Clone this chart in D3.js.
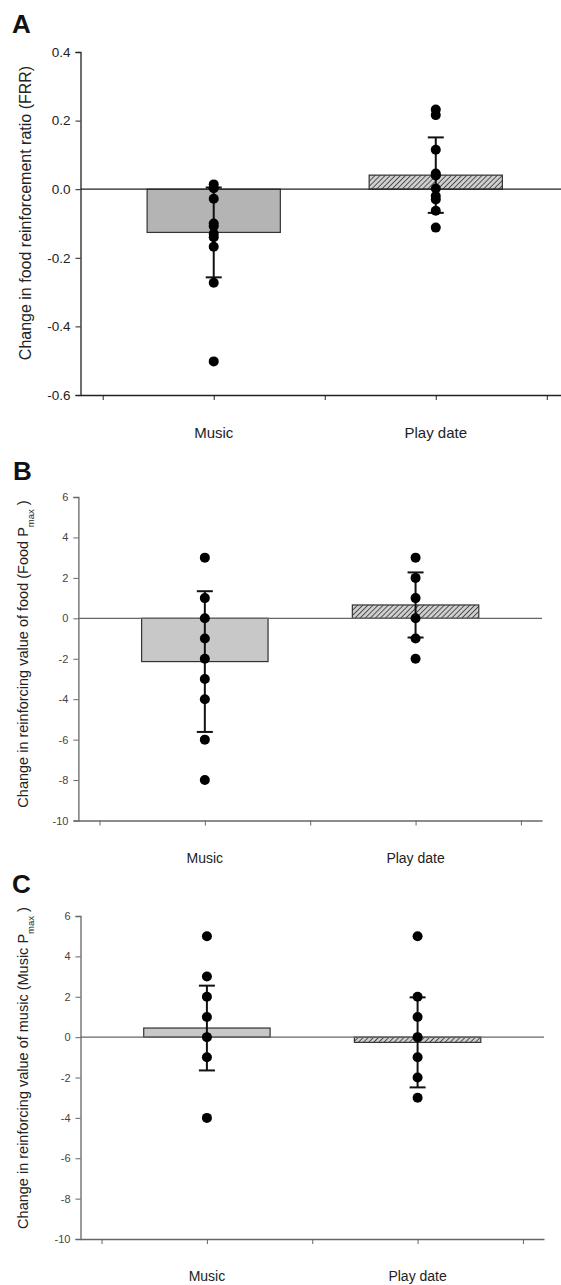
<!DOCTYPE html>
<html>
<head>
<meta charset="utf-8">
<script src="https://cdn.jsdelivr.net/npm/d3@7"></script>
<style>
  body { margin: 0; background: #fff; }
  svg { display: block; font-family: "Liberation Sans", Arial, sans-serif; }
</style>
</head>
<body>
<div id="chart"></div>
<script>
// data
const categories = ["Music", "Play date"];

// panel A - food reinforcement ratio
const frrTicks = [0.4, 0.2, 0.0, -0.2, -0.4, -0.6];
const frrMeans = [-0.126, 0.041];
const frrSD = [0.131, 0.110];
const frrMusic = [0.014, 0.003, -0.028, -0.100, -0.108, -0.130, -0.140, -0.168, -0.273, -0.502];
const frrPlay = [0.232, 0.216, 0.115, 0.046, 0.040, 0.002, -0.020, -0.030, -0.063, -0.112];

// panel B - food Pmax
const pmaxTicks = [6, 4, 2, 0, -2, -4, -6, -8, -10];
const foodMeans = [-2.14, 0.66];
const foodSD = [3.48, 1.61];
const foodMusic = [3, 1, 0, -1, -2, -3, -4, -6, -8];
const foodPlay = [3, 2, 1, 0, -1, -2];

// panel C - music Pmax
const musicMeans = [0.45, -0.26];
const musicSD = [2.10, 2.23];
const musicMusic = [5, 3, 2, 1, 0, -1, -4];
const musicPlay = [5, 2, 1, 0, -1, -2, -3];

const W = 561, H = 1285;

let svg = d3.select("#chart")
    .append("svg")
    .attr("width", W)
    .attr("height", H);

// hatch pattern for play date bars
let defs = svg.append("defs");
let pat = defs.append("pattern")
    .attr("id", "hatch")
    .attr("patternUnits", "userSpaceOnUse")
    .attr("width", 3.6)
    .attr("height", 3.6)
    .attr("patternTransform", "rotate(45)");
pat.append("rect").attr("width", 3.6).attr("height", 3.6).attr("fill", "#cfcfcf");
pat.append("line")
    .attr("x1", 0).attr("y1", 0).attr("x2", 0).attr("y2", 3.6)
    .attr("stroke", "#333")
    .attr("stroke-width", 1.6);

// plain hyphen like the original figure
const hyphen = f => d => f(d).replace("\u2212", "-");

function drawPanel(cfg) {
    let x = d3.scaleLinear().domain([0.4, 2.6]).range([cfg.x0, cfg.x1]);
    let y = d3.scaleLinear().domain([cfg.ymax, cfg.ymin]).range([cfg.y0, cfg.y1]);
    let g = svg.append("g");

    // panel letter
    g.append("text")
        .attr("x", cfg.letterX)
        .attr("y", cfg.letterY)
        .text(cfg.letter)
        .style("font-size", "26px")
        .style("font-weight", "bold")
        .style("fill", "#111");

    // bars (0.6 category units wide)
    let barW = x(1.6) - x(1);
    categories.forEach((c, i) => {
        let m = cfg.means[i];
        g.append("rect")
            .attr("x", x(i + 1) - barW / 2)
            .attr("y", y(Math.max(0, m)))
            .attr("width", barW)
            .attr("height", Math.abs(y(m) - y(0)))
            .attr("fill", i === 0 ? cfg.barFill : "url(#hatch)")
            .attr("stroke", "#333")
            .attr("stroke-width", 1.2);
    });

    // zero line
    g.append("line")
        .attr("x1", cfg.x0).attr("x2", cfg.x1)
        .attr("y1", y(0)).attr("y2", y(0))
        .attr("stroke", cfg.axisColor)
        .attr("stroke-width", 1.3);

    // error bars
    categories.forEach((c, i) => {
        let cx = x(i + 1);
        let top = y(cfg.means[i] + cfg.sd[i]);
        let bot = y(cfg.means[i] - cfg.sd[i]);
        g.append("line")
            .attr("x1", cx).attr("x2", cx)
            .attr("y1", top).attr("y2", bot)
            .attr("stroke", "#111").attr("stroke-width", 2);
        [top, bot].forEach(v => {
            g.append("line")
                .attr("x1", cx - 8).attr("x2", cx + 8)
                .attr("y1", v).attr("y2", v)
                .attr("stroke", "#111").attr("stroke-width", 2);
        });
    });

    // individual points
    cfg.points.forEach((pts, i) => {
        g.selectAll(null)
            .data(pts)
            .enter()
            .append("circle")
            .attr("cx", x(i + 1))
            .attr("cy", d => y(d))
            .attr("r", 5)
            .attr("fill", "#000");
    });

    // y axis
    let yAxis = g.append("g")
        .attr("transform", `translate(${cfg.x0},0)`)
        .call(d3.axisLeft(y).tickValues(cfg.ticks).tickFormat(hyphen(cfg.fmt)).tickSize(5).tickPadding(5));
    yAxis.select(".domain").attr("stroke", cfg.axisColor).attr("stroke-width", 1.3);
    yAxis.selectAll(".tick line").attr("stroke", cfg.axisColor);
    yAxis.selectAll("text")
        .style("font-size", cfg.tickSize)
        .style("fill", cfg.tickColor)
        .style("font-family", "Liberation Sans, Arial, sans-serif");

    // x axis (ticks only)
    let xAxis = g.append("g")
        .attr("transform", `translate(0,${cfg.y1})`)
        .call(d3.axisBottom(x).tickValues([0.5, 1, 1.5, 2, 2.5]).tickSize(5).tickSizeOuter(0).tickFormat(""));
    xAxis.select(".domain").attr("stroke", cfg.axisColor).attr("stroke-width", 1.3);
    xAxis.selectAll(".tick line").attr("stroke", cfg.axisColor);

    // category labels
    categories.forEach((c, i) => {
        g.append("text")
            .attr("x", x(i + 1))
            .attr("y", cfg.y1 + cfg.catOffset)
            .attr("text-anchor", "middle")
            .text(c)
            .style("font-size", cfg.catSize)
            .style("fill", "#222");
    });

    // y title
    let t = g.append("text")
        .attr("transform", `translate(${cfg.titleX},${cfg.titleY}) rotate(-90)`)
        .attr("text-anchor", "middle")
        .style("font-size", cfg.titleSize)
        .style("fill", "#222");
    t.append("tspan").text(cfg.title);
    if (cfg.sub) {
        t.append("tspan")
            .attr("baseline-shift", "sub")
            .style("font-size", "9.5px")
            .text(cfg.sub);
        t.append("tspan").text(" )");
    }
}

drawPanel({
    letter: "A", letterX: 12, letterY: 33,
    x0: 80.5, x1: 569, y0: 52, y1: 395, ymax: 0.4, ymin: -0.6,
    ticks: frrTicks, fmt: d3.format(".1f"),
    means: frrMeans, sd: frrSD, points: [frrMusic, frrPlay],
    barFill: "#b4b4b4", axisColor: "#222", tickColor: "#222", tickSize: "13.5px",
    catOffset: 43, catSize: "15px",
    title: "Change in food reinforcement ratio (FRR)", titleX: 31, titleY: 213, titleSize: "16px"
});

drawPanel({
    letter: "B", letterX: 13, letterY: 480,
    x0: 78.4, x1: 542, y0: 497, y1: 820.5, ymax: 6, ymin: -10,
    ticks: pmaxTicks, fmt: d3.format("d"),
    means: foodMeans, sd: foodSD, points: [foodMusic, foodPlay],
    barFill: "#c8c8c8", axisColor: "#666", tickColor: "#444", tickSize: "11px",
    catOffset: 42, catSize: "14px",
    title: "Change in reinforcing value of food (Food P", sub: "max", titleX: 28, titleY: 654, titleSize: "14.5px"
});

drawPanel({
    letter: "C", letterX: 12, letterY: 893,
    x0: 80.5, x1: 544, y0: 916, y1: 1239, ymax: 6, ymin: -10,
    ticks: pmaxTicks, fmt: d3.format("d"),
    means: musicMeans, sd: musicSD, points: [musicMusic, musicPlay],
    barFill: "#c8c8c8", axisColor: "#666", tickColor: "#444", tickSize: "11px",
    catOffset: 42, catSize: "14px",
    title: "Change in reinforcing value of music (Music P", sub: "max", titleX: 28, titleY: 1068, titleSize: "14.5px"
});
</script>
</body>
</html>
